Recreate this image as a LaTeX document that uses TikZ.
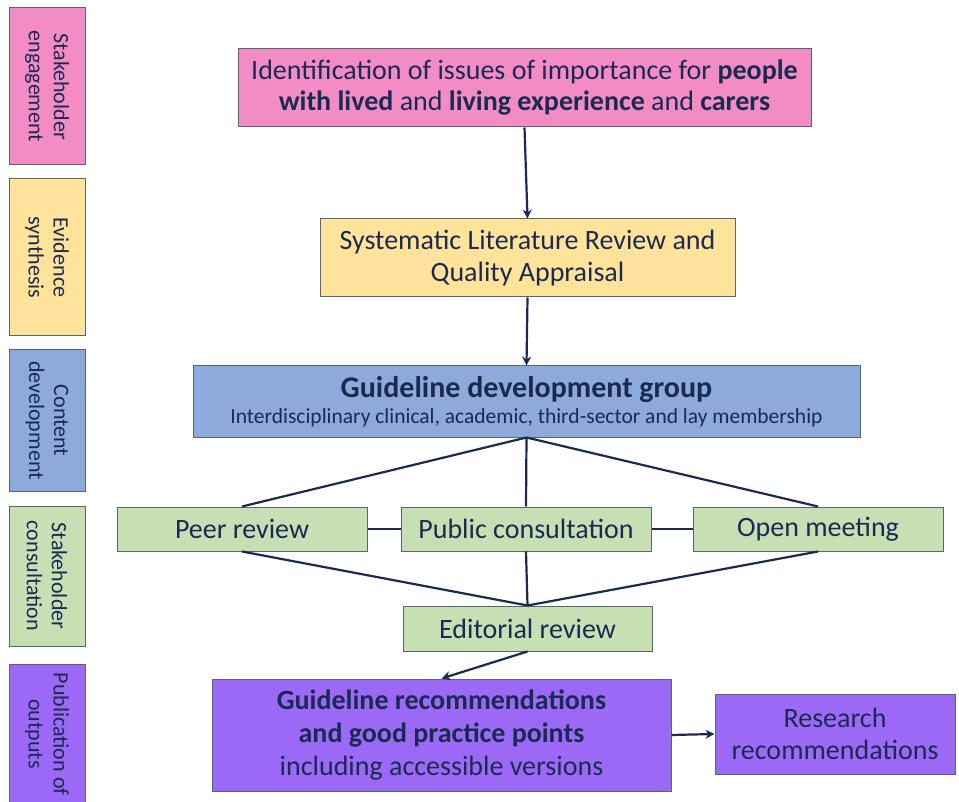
\documentclass[tikz,border=0pt]{standalone}
\usepackage{fontspec}
\setmainfont{Carlito}
\usetikzlibrary{arrows.meta}
\definecolor{ink}{HTML}{1B2A52}
\definecolor{edge}{HTML}{55676E}
\definecolor{cpink}{HTML}{F38CC4}
\definecolor{cyellow}{HTML}{FFE39A}
\definecolor{cblue}{HTML}{8EA9DB}
\definecolor{cgreen}{HTML}{C6E0B4}
\definecolor{cpurple}{HTML}{9C69F7}
\tikzset{
  box/.style={draw=edge, line width=1pt, text=ink, align=center, inner sep=2pt, font=\fontsize{28}{32}\selectfont},
  side/.style={box, rotate=-90, font=\fontsize{22}{25}\selectfont},
  conn/.style={draw=ink, line width=2.2pt},
  arr/.style={conn, -{Stealth[length=9pt,width=9pt]}}
}
\begin{document}
\begin{tikzpicture}[x=1pt,y=-1pt]
\useasboundingbox (0,0) rectangle (959,802);
% phase labels down the left side
\node[side, fill=cpink,   minimum width=157pt, minimum height=76pt] (s1) at (47,86.5) {Stakeholder\\engagement};
\node[side, fill=cyellow, minimum width=157pt, minimum height=76pt] (s2) at (47,257.5) {Evidence\\synthesis};
\node[side, fill=cblue,   minimum width=141pt, minimum height=76pt] (s3) at (47,420.5) {Content\\development};
\node[side, fill=cgreen,  minimum width=140pt, minimum height=76pt] (s4) at (47,576) {Stakeholder\\consultation};
\node[side, fill=cpurple, minimum width=140pt, minimum height=76pt] (s5) at (47,734) {Publication of\\outputs};
% main flow
\node[box, fill=cpink, minimum width=573pt, minimum height=78pt, font=\fontsize{28}{31}\selectfont] (top) at (524.5,88)
  {Identification of issues of importance for \textbf{people}\\\textbf{with lived} and \textbf{living experience} and \textbf{carers}};
\node[box, fill=cyellow, minimum width=415pt, minimum height=78pt] (slr) at (527.5,258)
  {Systematic Literature Review and\\Quality Appraisal};
\node[box, fill=cblue, minimum width=667pt, minimum height=71pt] (gdg) at (526.5,401.5)
  {{\fontsize{30}{32}\selectfont\textbf{Guideline development group}}\\[-6pt]{\fontsize{21.5}{24}\selectfont Interdisciplinary clinical, academic, third-sector and lay membership}};
\node[box, fill=cgreen, minimum width=250pt, minimum height=44pt] (peer) at (242,529) {Peer review};
\node[box, fill=cgreen, minimum width=250pt, minimum height=44pt] (pub) at (526,529) {Public consultation};
\node[box, fill=cgreen, minimum width=250pt, minimum height=44pt] (open) at (818,529) {Open meeting};
\node[box, fill=cgreen, minimum width=249pt, minimum height=45pt] (edit) at (527.5,628.5) {Editorial review};
\node[box, fill=cpurple, minimum width=459pt, minimum height=112pt, font=\fontsize{28}{33}\selectfont] (guide) at (441.5,735)
  {\textbf{Guideline recommendations}\\\textbf{and good practice points}\\including accessible versions};
\node[box, fill=cpurple, minimum width=240pt, minimum height=80pt] (res) at (835,734)
  {Research\\recommendations};
% connectors
\draw[arr] (top.south) -- (slr.north);
\draw[arr] (slr.south) -- (gdg.north);
\draw[conn] (gdg.south) -- (peer.north);
\draw[conn] (gdg.south) -- (pub.north);
\draw[conn] (gdg.south) -- (open.north);
\draw[conn] (peer.east) -- (pub.west);
\draw[conn] (pub.east) -- (open.west);
\draw[conn] (peer.south) -- (edit.north);
\draw[conn] (pub.south) -- (edit.north);
\draw[conn] (open.south) -- (edit.north);
\draw[arr] (edit.south) -- (guide.north);
\draw[arr] (guide.east) -- (res.west);
\end{tikzpicture}
\end{document}
